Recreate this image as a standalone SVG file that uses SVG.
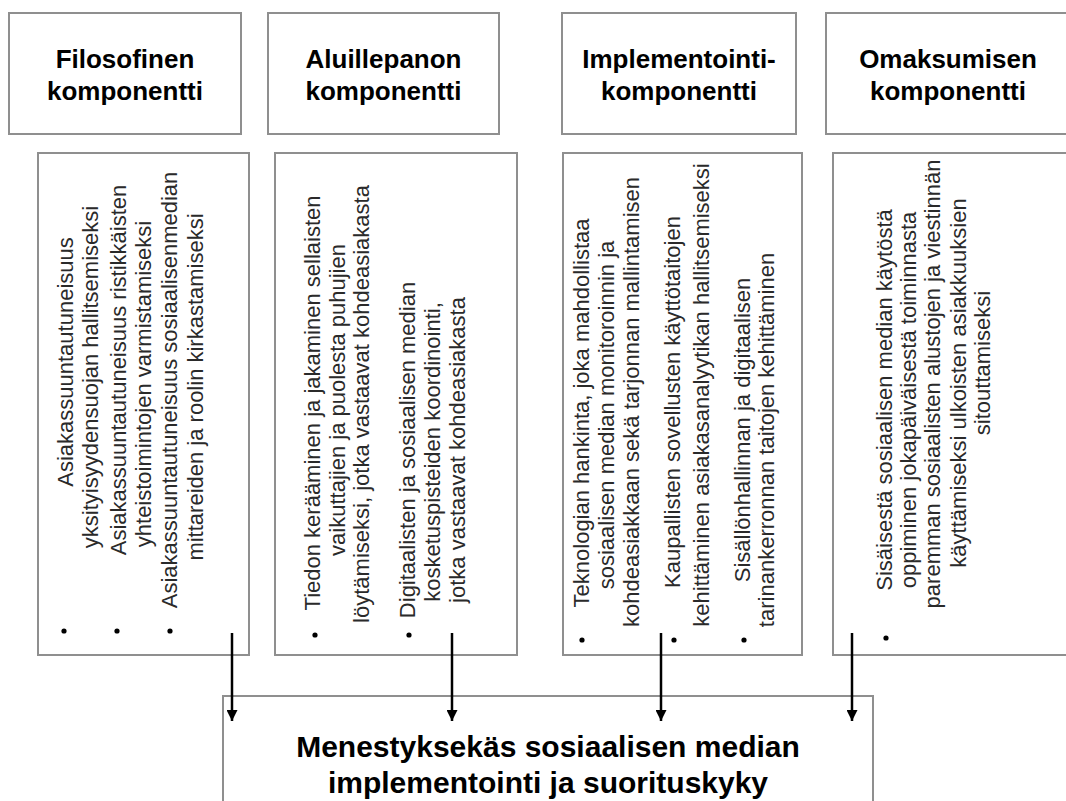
<svg xmlns="http://www.w3.org/2000/svg" width="1066" height="801" viewBox="0 0 1066 801">
  <style>
    .box { fill: #ffffff; stroke: #8f8f8f; stroke-width: 2; }
    .head { font-family: "Liberation Sans", Arial, Helvetica, sans-serif; font-weight: bold; font-size: 26px; fill: #000; text-anchor: middle; }
    .title { font-family: "Liberation Sans", Arial, Helvetica, sans-serif; font-weight: bold; font-size: 30px; fill: #000; text-anchor: middle; }
    .body { font-family: "Liberation Sans", Arial, Helvetica, sans-serif; font-size: 22px; fill: #2a2a2a; text-anchor: middle; }
    .dot { fill: #000; }
    .conn { stroke: #000; stroke-width: 2.5; fill: none; }
  </style>
  <defs>
    <marker id="arrow" viewBox="0 0 10 10" refX="10" refY="5" markerWidth="4.4" markerHeight="4.4" markerUnits="strokeWidth" orient="auto">
      <path d="M0,0 L10,5 L0,10 Z" fill="#000"/>
    </marker>
  </defs>
  <rect width="1066" height="801" fill="#ffffff"/>

  <!-- header boxes -->
  <g id="head-filosofinen">
    <rect class="box" x="9" y="13" width="232" height="121"/>
    <text class="head" x="125" y="68">Filosofinen</text>
    <text class="head" x="125" y="100">komponentti</text>
  </g>
  <g id="head-aluillepanon">
    <rect class="box" x="268" y="13" width="231" height="121"/>
    <text class="head" x="383.5" y="68">Aluillepanon</text>
    <text class="head" x="383.5" y="100">komponentti</text>
  </g>
  <g id="head-implementointi">
    <rect class="box" x="562" y="13" width="234" height="121"/>
    <text class="head" x="679" y="68">Implementointi-</text>
    <text class="head" x="679" y="100">komponentti</text>
  </g>
  <g id="head-omaksumisen">
    <rect class="box" x="826" y="13" width="244" height="121"/>
    <text class="head" x="948" y="68">Omaksumisen</text>
    <text class="head" x="948" y="100">komponentti</text>
  </g>

  <!-- content boxes, text runs bottom to top -->
  <g id="body-filosofinen">
    <rect class="box" x="38" y="153" width="211" height="502"/>
    <text class="body" transform="translate(73,362) rotate(-90)">Asiakassuuntautuneisuus</text>
    <text class="body" transform="translate(98,377) rotate(-90)">yksityisyydensuojan hallitsemiseksi</text>
    <text class="body" transform="translate(126,370) rotate(-90)">Asiakassuuntautuneisuus ristikkäisten</text>
    <text class="body" transform="translate(151,384) rotate(-90)">yhteistoimintojen varmistamiseksi</text>
    <text class="body" transform="translate(177,390) rotate(-90)">Asiakassuuntautuneisuus sosiaalisenmedian</text>
    <text class="body" transform="translate(203,387) rotate(-90)">mittareiden ja roolin kirkastamiseksi</text>
    <circle class="dot" cx="64" cy="631" r="2.6"/>
    <circle class="dot" cx="117" cy="631" r="2.6"/>
    <circle class="dot" cx="170" cy="631" r="2.6"/>
  </g>
  <g id="body-aluillepanon">
    <rect class="box" x="275" y="153" width="242" height="502"/>
    <text class="body" transform="translate(320,403) rotate(-90)">Tiedon kerääminen ja jakaminen sellaisten</text>
    <text class="body" transform="translate(345,400) rotate(-90)">vaikuttajien ja puolesta puhujien</text>
    <text class="body" transform="translate(369,404) rotate(-90)">löytämiseksi, jotka vastaavat kohdeasiakasta</text>
    <text class="body" transform="translate(415,450) rotate(-90)">Digitaalisten ja sosiaalisen median</text>
    <text class="body" transform="translate(440,452) rotate(-90)">kosketuspisteiden koordinointi,</text>
    <text class="body" transform="translate(465,450) rotate(-90)">jotka vastaavat kohdeasiakasta</text>
    <circle class="dot" cx="315" cy="635" r="2.6"/>
    <circle class="dot" cx="409" cy="635" r="2.6"/>
  </g>
  <g id="body-implementointi">
    <rect class="box" x="563" y="153" width="239" height="502"/>
    <text class="body" transform="translate(589,413) rotate(-90)">Teknologian hankinta, joka mahdollistaa</text>
    <text class="body" transform="translate(614,415) rotate(-90)">sosiaalisen median monitoroinnin ja</text>
    <text class="body" transform="translate(639,402) rotate(-90)">kohdeasiakkaan sekä tarjonnan mallintamisen</text>
    <text class="body" transform="translate(680,402) rotate(-90)">Kaupallisten sovellusten käyttötaitojen</text>
    <text class="body" transform="translate(709,395) rotate(-90)">kehittäminen asiakasanalyytikan hallitsemiseksi</text>
    <text class="body" transform="translate(750,430) rotate(-90)">Sisällönhallinnan ja digitaalisen</text>
    <text class="body" transform="translate(774,440) rotate(-90)">tarinankerronnan taitojen kehittäminen</text>
    <circle class="dot" cx="582" cy="640" r="2.6"/>
    <circle class="dot" cx="674" cy="640" r="2.6"/>
    <circle class="dot" cx="744" cy="640" r="2.6"/>
  </g>
  <g id="body-omaksumisen">
    <rect class="box" x="833" y="153" width="240" height="502"/>
    <text class="body" transform="translate(892,400) rotate(-90)">Sisäisestä sosiaalisen median käytöstä</text>
    <text class="body" transform="translate(916,400) rotate(-90)">oppiminen jokapäiväisestä toiminnasta</text>
    <text class="body" transform="translate(940,384) rotate(-90)">paremman sosiaalisten alustojen ja viestinnän</text>
    <text class="body" transform="translate(966,383) rotate(-90)">käyttämiseksi ulkoisten asiakkuuksien</text>
    <text class="body" transform="translate(990,363) rotate(-90)">sitouttamiseksi</text>
    <circle class="dot" cx="886" cy="638" r="2.6"/>
  </g>

  <!-- outcome box -->
  <g id="outcome">
    <rect class="box" x="223" y="696" width="650" height="120"/>
    <text class="title" x="548" y="757">Menestyksekäs sosiaalisen median</text>
    <text class="title" x="548" y="793">implementointi ja suorituskyky</text>
  </g>

  <!-- connectors -->
  <g id="connectors">
    <line class="conn" x1="232" y1="633" x2="232" y2="721" marker-end="url(#arrow)"/>
    <line class="conn" x1="452" y1="633" x2="452" y2="721" marker-end="url(#arrow)"/>
    <line class="conn" x1="661" y1="633" x2="661" y2="721" marker-end="url(#arrow)"/>
    <line class="conn" x1="852" y1="633" x2="852" y2="721" marker-end="url(#arrow)"/>
  </g>
</svg>
